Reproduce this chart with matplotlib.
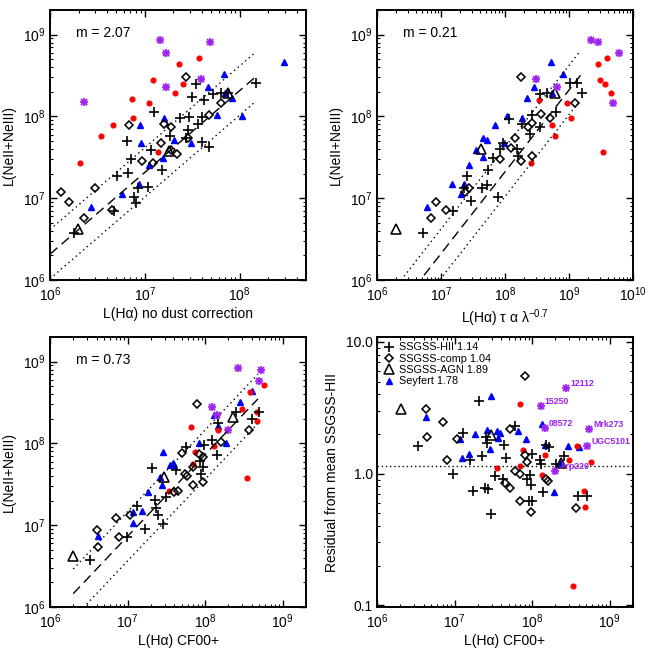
import numpy as np
import matplotlib
matplotlib.use('Agg')
import matplotlib.pyplot as plt
from matplotlib.lines import Line2D
from matplotlib.ticker import FixedLocator, FixedFormatter, LogLocator, NullFormatter

# all values are log10 (x = L(Halpha), y = L(NeII+NeIII) or residual)

######################### DATA #########################
# panel 1 : no dust correction
p1_hii = [(8.17,8.41),(7.54,8.40),(7.50,8.24),(7.62,8.20),(7.72,8.27),(7.80,8.29),(7.88,8.29),(7.10,8.05),
          (7.37,7.98),(7.47,7.99),(7.60,7.99),(7.56,7.91),(7.46,7.84),(7.26,7.76),(7.43,7.73),(7.60,7.69),
          (7.68,7.63),(6.81,7.70),(6.85,7.48),(7.06,7.59),(7.18,7.35),(6.71,7.27),(6.82,7.31),(6.93,7.12),
          (7.03,7.14),(6.89,7.01),(6.91,6.94),(6.68,6.84),(6.25,6.57)]
p1_comp = [(7.43,8.48),(7.80,8.17),(7.68,8.02),(6.83,7.89),(7.20,7.91),(7.28,7.87),(7.17,7.68),(7.46,7.73),
           (7.28,7.59),(7.34,7.54),(6.97,7.45),(7.09,7.43),(6.47,7.13),(6.12,7.08),(6.20,6.95),(6.36,6.76),
           (6.65,6.85)]
p1_agn = [(6.30,6.62),(7.25,7.58),(7.88,8.29)]
p1_sey = [(8.47,8.66),(7.83,8.52),(7.67,8.36),(7.84,8.29),(7.92,8.22),(7.76,8.02),(8.02,8.00),(7.20,7.98),
          (6.95,7.89),(6.96,7.67),(7.31,7.71),(7.19,7.49),(7.04,7.41),(7.49,7.67),(6.94,7.17),(6.76,7.05),
          (6.43,6.89)]
p1_red = [(7.57,8.71),(7.36,8.64),(7.09,8.44),(7.40,8.40),(7.32,8.29),(6.86,8.21),(7.04,8.17),(6.88,7.98),
          (6.66,7.90),(6.54,7.76),(6.32,7.43),(7.14,7.57)]
p1_ulirg = [(7.16,8.93),(7.22,8.77),(7.69,8.91),(7.22,8.36),(7.59,8.46),(6.36,8.18)]

# panel 2 : tau ~ lambda^-0.7
p2_hii = [(9.12,8.41),(9.02,8.41),(9.20,8.29),(8.55,8.27),(8.65,8.29),(8.80,8.06),(8.42,8.02),(8.07,7.97),
          (8.26,7.91),(8.54,7.87),(8.39,7.78),(7.97,7.67),(7.92,7.60),(8.19,7.60),(8.21,7.52),(7.81,7.49),
          (7.74,7.34),(7.89,7.02),(7.40,7.27),(7.36,7.13),(7.64,7.13),(7.72,7.16),(7.47,6.97),(7.19,6.84),
          (6.72,6.57)]
p2_comp = [(8.25,8.48),(9.10,8.17),(8.57,8.03),(8.70,7.98),(8.42,7.92),(8.36,7.87),(8.16,7.73),(8.10,7.61),
           (7.92,7.48),(8.42,7.52),(8.25,7.45),(7.44,7.13),(7.38,7.08),(6.92,6.95),(7.08,6.85),(6.84,6.76)]
p2_agn = [(6.30,6.62),(7.63,7.60),(8.78,8.29)]
p2_sey = [(8.72,8.66),(8.91,8.52),(8.46,8.36),(8.34,8.22),(8.74,8.29),(8.03,8.01),(8.26,7.98),(7.84,7.90),
          (7.66,7.74),(7.72,7.71),(7.98,7.67),(7.55,7.59),(7.66,7.50),(7.44,7.41),(7.17,7.17),(7.36,7.17),
          (7.32,7.05),(6.78,6.89)]
p2_red = [(9.60,8.71),(9.45,8.64),(9.48,8.44),(9.56,8.40),(9.65,8.29),(8.53,8.20),(8.97,8.16),(9.03,7.98),
          (8.73,7.90),(8.78,7.76),(9.53,7.57),(8.41,7.43)]
p2_ulirg = [(9.35,8.93),(9.46,8.91),(9.78,8.77),(9.68,8.17),(8.48,8.46),(8.82,8.36)]

# panel 3 : CF00+
p3_hii = [(8.40,8.39),(8.60,8.30),(8.70,8.39),(8.17,8.25),(8.09,8.04),(7.99,7.98),(8.15,7.86),(7.75,7.96),
          (7.94,7.79),(7.97,7.71),(7.95,7.62),(7.63,7.67),(7.31,7.70),(7.35,7.31),(7.50,7.34),(7.12,7.24),
          (7.37,7.21),(7.39,7.13),(7.22,6.95),(7.46,7.02),(6.99,6.85),(6.52,6.57)]
p3_comp = [(7.90,8.48),(8.57,8.17),(8.20,8.02),(7.70,7.88),(7.92,7.87),(7.97,7.83),(7.84,7.71),(7.74,7.62),
           (7.77,7.60),(7.65,7.42),(7.60,7.40),(7.97,7.53),(7.84,7.49),(7.03,7.13),(6.85,7.09),(6.61,6.94),
           (6.89,6.85),(6.62,6.73)]
p3_agn = [(6.30,6.62),(7.47,7.59),(8.36,8.32)]
p3_sey = [(8.61,8.64),(8.45,8.51),(8.12,8.35),(8.17,8.21),(7.92,8.01),(8.27,8.00),(7.60,7.73),(7.46,7.89),
          (7.55,7.73),(7.59,7.76),(7.42,7.59),(7.45,7.49),(7.27,7.40),(7.07,7.16),(7.18,7.17),(7.07,7.03),
          (6.62,6.87)]
p3_red = [(8.76,8.71),(8.58,8.63),(8.48,8.42),(8.67,8.39),(8.67,8.28),(7.82,8.20),(8.16,8.16),(8.12,7.97),
          (7.87,7.89),(7.85,7.75),(8.54,7.58),(7.54,7.42)]
p3_ulirg = [(8.43,8.92),(8.72,8.90),(8.70,8.76),(8.09,8.45),(8.15,8.35),(8.30,8.17)]

# panel 4 : residual from mean SSGSS-HII (log residual)
p4_hii = [(7.32,0.55),(7.11,0.31),(6.53,0.21),(7.41,0.28),(7.42,0.23),(7.64,0.22),(7.35,0.13),(7.20,0.10),
          (7.66,0.12),(6.98,0.00),(7.52,-0.02),(7.39,-0.11),(7.43,-0.12),(7.24,-0.13),(7.47,-0.31),(7.78,0.36),
          (8.00,0.15),(8.18,0.22),(8.22,0.20),(8.41,0.13),(8.31,0.07),(8.10,0.10),(8.11,0.07),(7.97,-0.01),
          (7.94,-0.04),(7.98,-0.09),(8.14,-0.14),(7.96,-0.21),(8.00,-0.21),(8.59,-0.17),(8.71,-0.17),(7.63,-0.04)]
p4_comp = [(7.91,0.74),(6.63,0.49),(6.85,0.39),(6.64,0.28),(7.03,0.26),(6.90,0.10),(7.72,0.34),(7.91,0.14),
           (7.93,0.09),(7.78,0.02),(7.84,0.00),(7.65,-0.07),(7.71,-0.11),(8.18,-0.04),(8.20,-0.06),(7.85,-0.21),
           (7.98,-0.29),(8.57,-0.26)]
p4_agn = [(6.31,0.49),(7.47,0.29),(8.37,0.08)]
p4_sey = [(7.47,0.59),(6.63,0.43),(7.07,0.26),(7.19,0.15),(7.09,0.12),(7.42,0.33),(7.55,0.32),(7.59,0.31),
          (7.27,0.30),(7.56,0.27),(7.46,0.19),(7.82,0.32),(8.13,0.38),(7.92,0.26),(8.16,0.22),(8.46,0.21),
          (8.61,0.20),(8.36,0.08),(8.28,-0.14)]
p4_red = [(7.84,0.53),(7.88,0.18),(8.17,0.14),(8.58,0.21),(8.48,0.10),(8.76,0.09),(7.55,0.04),(7.85,0.06),
          (8.13,-0.01),(8.67,-0.13),(8.68,-0.25),(8.53,-0.85)]
p4_ulirg = [(8.44,0.65),(8.11,0.51),(8.16,0.35),(8.73,0.34),(8.71,0.21),(8.30,0.02)]
ulirg_names = ['12112', '15250', '08572', 'Mrk273', 'UGC5101', 'Arp220']

slopes = [2.07, 0.21, 0.73]                      # mean ratio of SSGSS-HII
line_ranges = [(6.0, 8.17), (6.0, 9.18), (6.3, 8.68)]
mean_resid = 1.14
legend_labels = ['SSGSS-HII 1.14', 'SSGSS-comp 1.04', 'SSGSS-AGN 1.89', 'Seyfert 1.78']
xlabels = ['L(H\u03b1) no dust correction', 'L(H\u03b1) \u03c4 \u03b1 \u03bb$^{-0.7}$',
           'L(H\u03b1) CF00+', 'L(H\u03b1) CF00+']
#########################################################

plt.rcParams.update({
    'font.family': ['Liberation Sans', 'DejaVu Sans'],
    'mathtext.fontset': 'custom',
    'mathtext.rm': 'Liberation Sans',
    'mathtext.it': 'Liberation Sans:italic',
    'mathtext.bf': 'Liberation Sans:bold',
    'font.size': 10,
    'axes.linewidth': 1.4,
    'xtick.direction': 'in', 'ytick.direction': 'in',
    'xtick.top': True, 'ytick.right': True,
    'xtick.major.size': 5, 'ytick.major.size': 5,
    'xtick.minor.size': 2.5, 'ytick.minor.size': 2.5,
    'xtick.major.width': 1.0, 'ytick.major.width': 1.0,
    'xtick.minor.width': 0.8, 'ytick.minor.width': 0.8,
    'xtick.labelsize': 10, 'ytick.labelsize': 10,
    'xtick.major.pad': 4, 'ytick.major.pad': 3,
})

PURPLE = '#A020F0'
sty = {
    'sey':   dict(marker='^', ms=3.8, color='#0000FF', mec='#0000FF', ls='none'),
    'red':   dict(marker='o', ms=3.4, color='#FF0000', mec='#FF0000', ls='none'),
    'hii':   dict(marker='+', ms=6.8, color='k', mew=1.2, ls='none'),
    'comp':  dict(marker='D', ms=4.5, mfc='none', mec='k', mew=1.15, ls='none'),
    'agn':   dict(marker='^', ms=6.8, mfc='none', mec='k', mew=1.15, ls='none'),
}


def xy(pts):
    a = np.array(pts)
    return 10 ** a[:, 0], 10 ** a[:, 1]


def draw_ulirg(ax, x, y):
    # IDL-like asterisk drawn over a light square
    ax.plot(x, y, 's', ms=4.6, color='#C58AF5', mec='none', ls='none')
    ax.plot(x, y, 'x', ms=4.6, color=PURPLE, mew=1.2, ls='none')
    ax.plot(x, y, '+', ms=5.6, color=PURPLE, mew=1.2, ls='none')


def draw(ax, groups):
    for key in ['sey', 'red', 'hii', 'comp', 'agn']:
        x, y = xy(groups[key])
        ax.plot(x, y, **sty[key])
    ux, uy = xy(groups['ulirg'])
    draw_ulirg(ax, ux, uy)


fig = plt.figure(figsize=(6.54, 6.54), dpi=100)
W = 654.0
pos = [(50, 10), (377, 10), (50, 337), (377, 337)]
axes = [fig.add_axes([l / W, 1 - (t + 270) / W, 256 / W, 270 / W]) for l, t in pos]

panels = [
    dict(hii=p1_hii, comp=p1_comp, agn=p1_agn, sey=p1_sey, red=p1_red, ulirg=p1_ulirg),
    dict(hii=p2_hii, comp=p2_comp, agn=p2_agn, sey=p2_sey, red=p2_red, ulirg=p2_ulirg),
    dict(hii=p3_hii, comp=p3_comp, agn=p3_agn, sey=p3_sey, red=p3_red, ulirg=p3_ulirg),
    dict(hii=p4_hii, comp=p4_comp, agn=p4_agn, sey=p4_sey, red=p4_red, ulirg=p4_ulirg),
]
xlims = [(1e6, 5e8), (1e6, 1e10), (1e6, 2e9), (1e6, 2e9)]

for i, ax in enumerate(axes):
    ax.set_xscale('log')
    ax.set_yscale('log')
    draw(ax, panels[i])
    ax.set_xlim(*xlims[i])
    ax.xaxis.set_major_locator(LogLocator(base=10, numticks=12))
    ax.xaxis.set_minor_locator(LogLocator(base=10, subs=np.arange(2, 10), numticks=12))
    ax.xaxis.set_minor_formatter(NullFormatter())
    ax.set_xlabel(xlabels[i], labelpad=2)
    if i < 3:
        m = slopes[i]
        lx = np.array(line_ranges[i])
        xx = 10 ** lx
        ax.plot(xx, m * xx, color='k', lw=1.0, ls=(0, (7, 4)))
        ax.plot(xx, 2 * m * xx, color='k', lw=1.0, ls=(0, (1, 2.5)))
        ax.plot(xx, 0.5 * m * xx, color='k', lw=1.0, ls=(0, (1, 2.5)))
        ax.set_ylim(1e6, 2e9)
        ax.set_ylabel('L(NeII+NeIII)', labelpad=5)
        ax.text(0.1, 0.915, 'm = %.2f' % m, transform=ax.transAxes, va='center', fontsize=10)
    else:
        ax.axhline(mean_resid, color='k', lw=1.0, ls=(0, (1, 2)))
        ax.set_ylim(0.097, 10.9)
        ax.yaxis.set_major_locator(FixedLocator([0.1, 1.0, 10.0]))
        ax.yaxis.set_major_formatter(FixedFormatter(['0.1', '1.0', '10.0']))
        ax.set_ylabel('Residual from mean SSGSS-HII', labelpad=5)
        ux, uy = xy(p4_ulirg)
        for name, xv, yv in zip(ulirg_names, ux, uy):
            ax.annotate(name, (xv, yv), xytext=(3, 0), textcoords='offset points',
                        color=PURPLE, fontsize=6.3, fontweight='bold', va='bottom', ha='left')
        handles = [Line2D([], [], **sty['hii']), Line2D([], [], **sty['comp']),
                   Line2D([], [], **sty['agn']), Line2D([], [], **sty['sey'])]
        ax.legend(handles, legend_labels, loc='upper left', frameon=False, fontsize=7.8,
                  handletextpad=0.3, handlelength=1.2, labelspacing=0.12, borderaxespad=0.3,
                  borderpad=0.2)
    ax.yaxis.set_minor_locator(LogLocator(base=10, subs=np.arange(2, 10), numticks=12))
    ax.yaxis.set_minor_formatter(NullFormatter())

fig.savefig('out.png', dpi=100)
